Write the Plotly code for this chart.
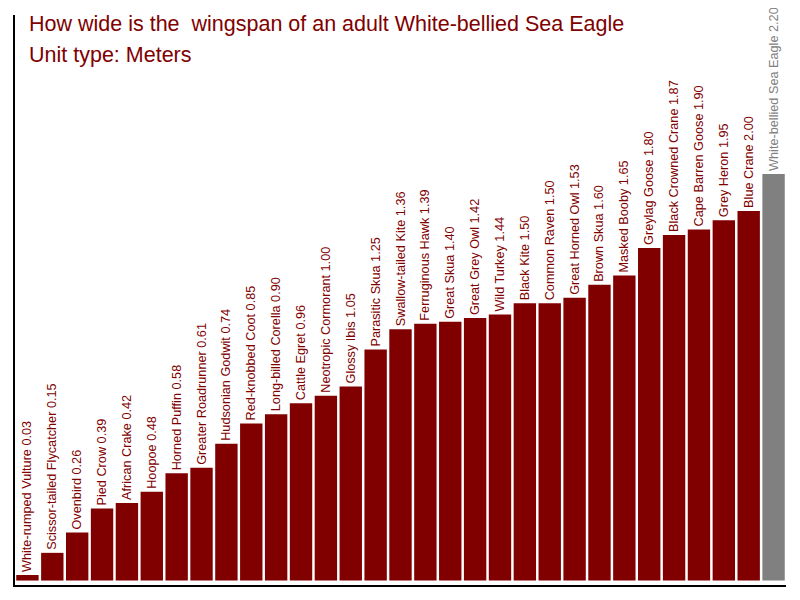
import plotly.graph_objects as go

# wingspan data, meters
birds = [
    "White-rumped Vulture", "Scissor-tailed Flycatcher", "Ovenbird", "Pied Crow",
    "African Crake", "Hoopoe", "Horned Puffin", "Greater Roadrunner",
    "Hudsonian Godwit", "Red-knobbed Coot", "Long-billed Corella", "Cattle Egret",
    "Neotropic Cormorant", "Glossy Ibis", "Parasitic Skua", "Swallow-tailed Kite",
    "Ferruginous Hawk", "Great Skua", "Great Grey Owl", "Wild Turkey",
    "Black Kite", "Common Raven", "Great Horned Owl", "Brown Skua",
    "Masked Booby", "Greylag Goose", "Black Crowned Crane", "Cape Barren Goose",
    "Grey Heron", "Blue Crane", "White-bellied Sea Eagle",
]
wingspans = [
    0.03, 0.15, 0.26, 0.39, 0.42, 0.48, 0.58, 0.61,
    0.74, 0.85, 0.90, 0.96, 1.00, 1.05, 1.25, 1.36,
    1.39, 1.40, 1.42, 1.44, 1.50, 1.50, 1.53, 1.60,
    1.65, 1.80, 1.87, 1.90, 1.95, 2.00, 2.20,
]
highlight = "White-bellied Sea Eagle"
title_lines = [
    "How wide is the&nbsp; wingspan of an adult White-bellied Sea Eagle",
    "Unit type: Meters",
]

RED = "#800000"
GREY = "#808080"
FONT = "Liberation Sans, Arial, sans-serif"

colors = [GREY if b == highlight else RED for b in birds]
labels = [f"{b} {v:.2f}" for b, v in zip(birds, wingspans)]

fig = go.Figure(go.Bar(
    x=birds,
    y=wingspans,
    marker=dict(color=colors, line=dict(width=0)),
    text=labels,
    textposition="outside",
    textangle=-90,
    constraintext="none",
    textfont=dict(family=FONT, size=12.7, color=colors),
    cliponaxis=False,
    hoverinfo="skip",
))

# title as two annotations so the line spacing can be matched
for i, line in enumerate(title_lines):
    fig.add_annotation(
        text=line, xref="paper", yref="paper",
        x=0.0156, xanchor="left",
        y=0.9842 - i * 31 / 570, yanchor="middle",
        showarrow=False,
        font=dict(family=FONT, size=21.5, color=RED),
    )

# body of the page has an 8px margin, so keep the figure inside the window
fig.update_layout(
    width=784, height=584,
    paper_bgcolor="white", plot_bgcolor="white",
    margin=dict(l=7, r=6, t=7, b=7),
    bargap=0.1,
    showlegend=False,
)
fig.update_xaxes(showticklabels=False, ticks="", showgrid=False,
                 showline=True, linecolor="black", linewidth=1.5)
fig.update_yaxes(range=[-0.024, 3.06], showticklabels=False, ticks="", showgrid=False,
                 zeroline=False, showline=True, linecolor="black", linewidth=1.5)

fig.write_html("out.html")
